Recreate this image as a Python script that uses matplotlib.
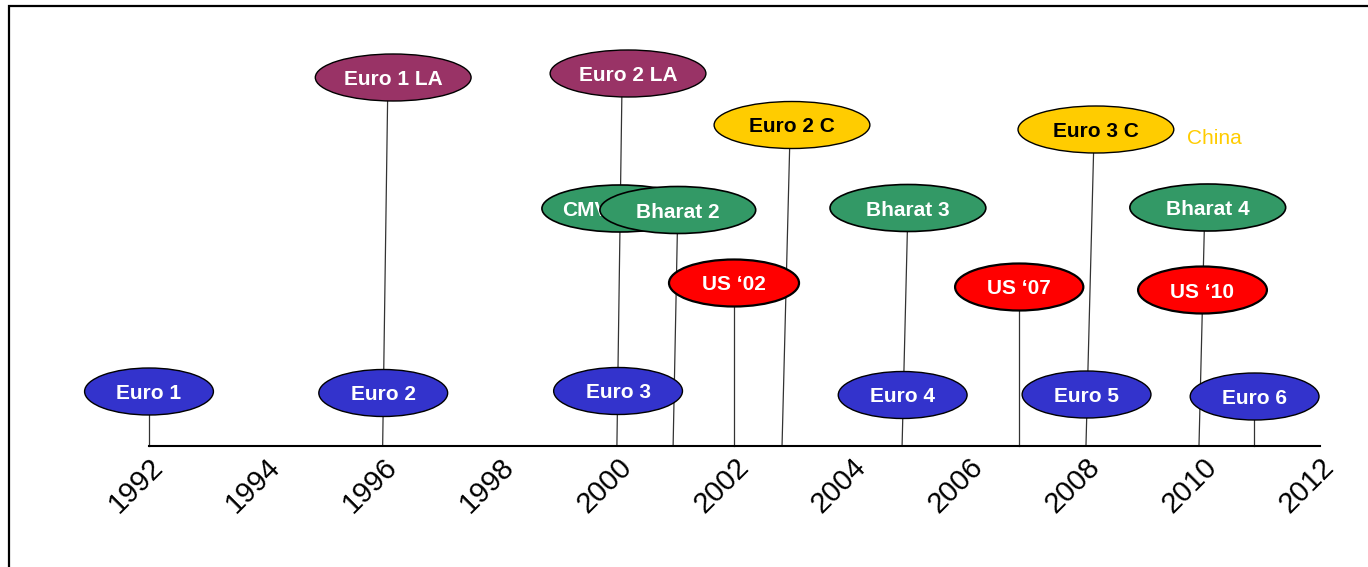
import matplotlib
matplotlib.use("Agg")
import matplotlib.pyplot as plt
from matplotlib.patches import Ellipse, Rectangle

plt.rcParams['font.family'] = ['Liberation Sans', 'DejaVu Sans']

# ---- data ----
years = [1992, 1994, 1996, 1998, 2000, 2002, 2004, 2006, 2008, 2010, 2012]
year_labels = [str(y) for y in years]

event_names = ["Euro 1", "Euro 2", "Euro 3", "Euro 4", "Euro 5", "Euro 6",
               "Euro 1 LA", "Euro 2 LA", "Euro 2 C", "Euro 3 C",
               "CMV", "Bharat 2", "Bharat 3", "Bharat 4",
               "US \u201802", "US \u201807", "US \u201810"]
event_group = ["euro", "euro", "euro", "euro", "euro", "euro",
               "la", "la", "china", "china",
               "bharat", "bharat", "bharat", "bharat",
               "us", "us", "us"]
event_year = [1992.0, 1996.0, 2000.01, 2004.87, 2008.01, 2010.88,
              1996.17, 2000.18, 2002.98, 2008.17,
              2000.04, 2001.03, 2004.96, 2010.08,
              2001.99, 2006.86, 2009.99]
event_level = [54.5, 53, 55, 51, 51.5, 49.5,
               368.5, 372.5, 321, 316.5,
               237.5, 236, 238, 238.5,
               163, 159, 156]
event_span = [2.2, 2.2, 2.2, 2.2, 2.2, 2.2,
              2.66, 2.66, 2.66, 2.66,
              2.66, 2.66, 2.66, 2.66,
              2.22, 2.19, 2.2]

# connector lines: (start year, start level, year where it meets the axis)
stem_start_year = [1992.0, 1996.08, 2000.08, 2001.03, 2001.99, 2002.95,
                   2004.96, 2006.85, 2008.14, 2010.03, 2010.87]
stem_start_level = [54, 368, 372, 236, 163, 321, 238, 159, 316, 238, 49]
stem_end_year = [1992.0, 1995.99, 1999.99, 2000.95, 2001.99, 2002.81,
                 2004.86, 2006.85, 2008.0, 2009.93, 2010.87]

china_note = "China"
china_year, china_level = 2010.19, 308

group_face = {"euro": "#3333CC", "la": "#993366", "china": "#FFCC00",
              "bharat": "#339966", "us": "#FF0000"}
group_text = {"euro": "white", "la": "white", "china": "black",
              "bharat": "white", "us": "white"}
group_edge_lw = {"euro": 1.0, "la": 1.0, "china": 1.0,
                 "bharat": 1.2, "us": 1.6}

# ---- figure ----
W, H = 1368, 567
fig = plt.figure(figsize=(W / 100, H / 100), dpi=100)
ax = fig.add_axes([0, 0, 1, 1])
px_per_year = 58.56
x0 = 1992 - 149 / px_per_year
ax.set_xlim(x0, x0 + W / px_per_year)
ax.set_ylim(-121, 446)

for s in ["top", "right", "left"]:
    ax.spines[s].set_visible(False)
ax.spines["bottom"].set_position(("data", 0))
ax.spines["bottom"].set_bounds(1992, 2012)
ax.spines["bottom"].set_linewidth(1.5)
ax.set_yticks([])
ax.set_xticks(years)
ax.set_xticklabels(year_labels, fontsize=21)
ax.tick_params(axis="x", length=0, pad=5)
for lab in ax.get_xticklabels():
    lab.set_rotation(45)
    lab.set_ha("right")
    lab.set_va("top")
    lab.set_rotation_mode("anchor")

# stems
for xs, ys, xe in zip(stem_start_year, stem_start_level, stem_end_year):
    ax.plot([xs, xe], [ys, 0], color="#333333", lw=0.9, zorder=1)

# ellipses
for i, (name, g, x, y, w) in enumerate(zip(event_names, event_group, event_year,
                                            event_level, event_span)):
    z = 2 + i * 0.01
    e = Ellipse((x, y), w, 47, facecolor=group_face[g], edgecolor="black",
                lw=group_edge_lw[g], zorder=z)
    ax.add_patch(e)
    if name == "CMV":
        ax.text(x - 0.98, y - 2, name, color=group_text[g], fontsize=15,
                fontweight="bold", ha="left", va="center", zorder=z + 0.001)
    else:
        ax.text(x, y - 2, name, color=group_text[g], fontsize=15, fontweight="bold",
                ha="center", va="center", zorder=z + 0.001)

ax.text(china_year, china_level, china_note, color="#FFCC00", fontsize=15,
        ha="center", va="center")

# outer frame
fig.add_artist(Rectangle((9 / W, -0.2), 2, 1 - 6 / H + 0.2, transform=fig.transFigure,
                         fill=False, edgecolor="black", lw=1.6))

fig.savefig("out.png", dpi=100)
